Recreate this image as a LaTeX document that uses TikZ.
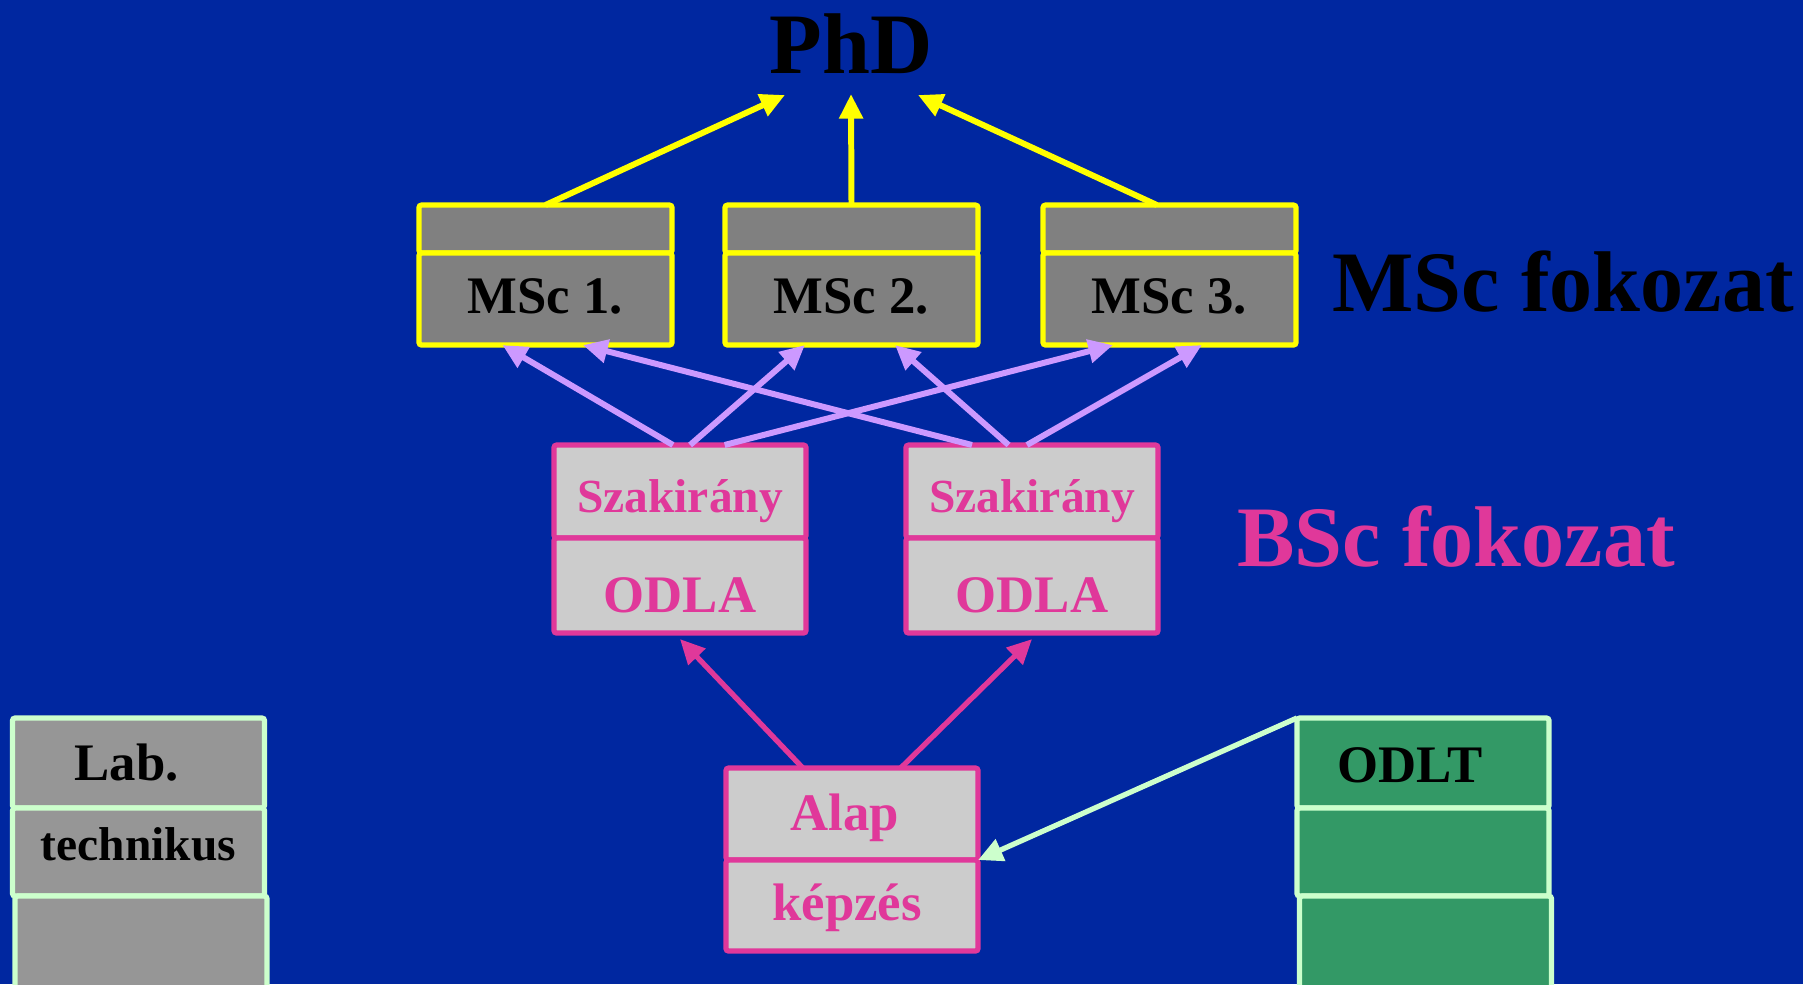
\documentclass[tikz,border=0pt]{standalone}
\usepackage{fontspec}
\setmainfont{Liberation Serif}
\usetikzlibrary{positioning,arrows.meta,calc}
\definecolor{hatter}{HTML}{0027A0}
\definecolor{sarga}{HTML}{FFFF00}
\definecolor{mscszurke}{HTML}{808080}
\definecolor{rozsa}{HTML}{E0389A}
\definecolor{vilagszurke}{HTML}{CCCCCC}
\definecolor{lila}{HTML}{CC99FF}
\definecolor{halvanyzold}{HTML}{CCFFCC}
\definecolor{zold}{HTML}{339966}
\definecolor{labszurke}{HTML}{969696}
\tikzset{
  cella/.style={rectangle,inner sep=0pt,outer sep=0pt,line width=1.5pt,align=center,rounded corners=0.8pt,
    minimum width=2.52cm,font=\fontsize{15}{18}\selectfont\bfseries,text depth=0pt},
  le/.style={text height=#1},
  mscdoboz/.style={cella,draw=sarga,fill=mscszurke,minimum width=2.53cm},
  bscdoboz/.style={cella,draw=rozsa,fill=vilagszurke,text=rozsa},
  labdoboz/.style={cella,draw=halvanyzold,fill=labszurke},
  odltdoboz/.style={cella,draw=halvanyzold,fill=zold},
  felirat/.style={font=\fontsize{24.5}{29}\selectfont\bfseries,inner sep=0pt},
  nyil/.style={-{Triangle[length=7pt,width=6.5pt]},line width=1.7pt},
  kisbetu/.style={font=\fontsize{13.5}{16}\selectfont\bfseries},
}

\begin{document}
\begin{tikzpicture}[x=0.01cm,y=-0.01cm]
  \fill[hatter] (0,0) rectangle (1803,984);
  \useasboundingbox (0,0) rectangle (1803,984);
  \node[felirat] (phd) at (851,44) {PhD};
  \coordinate (phd1) at (785,95);
  \coordinate (phd2) at (851,94);
  \coordinate (phd3) at (918,95);
  % MSc szint
  \foreach \n/\x in {1/545.5,2/851.5,3/1169.5}{
    \node[mscdoboz,minimum height=0.48cm] (msc\n a) at (\x,229) {};
    \node[mscdoboz,le=8pt,minimum height=0.92cm,below=0pt of msc\n a] (msc\n) {MSc \n.};
  }
  \node[felirat] (mscfok) at (1563,282) {MSc fokozat};
  \node[felirat,text=rozsa] (bscfok) at (1456,537) {BSc fokozat};
  % BSc szint
  \foreach \n/\x in {1/680,2/1032}{
    \node[bscdoboz,kisbetu,le=12pt,minimum height=0.93cm] (sz\n) at (\x,491.5) {Szakirány};
    \node[bscdoboz,le=15.4pt,minimum height=0.95cm,below=0pt of sz\n] (odla\n) {ODLA};
  }
  \node[bscdoboz,le=9.2pt,minimum height=0.92cm] (alap) at (852,814) {\hspace*{-0.14cm}Alap};
  \node[bscdoboz,le=8.3pt,minimum height=0.91cm,below=0pt of alap] (kepzes) {\hspace*{-0.1cm}képzés};
  % oldalso oszlopok
  \node[labdoboz,le=9.7pt,minimum height=0.90cm] (lab1) at (138.5,763) {\hspace*{-0.24cm}Lab.};
  \node[labdoboz,kisbetu,le=4.6pt,minimum height=0.88cm,below=0pt of lab1] (lab2) {technikus};
  \node[labdoboz,minimum height=1.0cm,below=0pt of lab2,xshift=0.025cm] (lab3) {};
  \node[odltdoboz,le=10.8pt,minimum height=0.90cm] (odlt1) at (1423,763) {\hspace*{-0.26cm}ODLT};
  \node[odltdoboz,minimum height=0.88cm,below=0pt of odlt1] (odlt2) {};
  \node[odltdoboz,minimum height=1.0cm,below=0pt of odlt2,xshift=0.025cm] (odlt3) {};
  % nyilak
  \draw[nyil,sarga] (msc1a.north) -- (phd1);
  \draw[nyil,sarga] (msc2a.north) -- (phd2);
  \draw[nyil,sarga] ($(msc3a.north west)!0.45!(msc3a.north east)$) -- (phd3);
  \foreach \s/\p/\m/\q in {sz1/0.472/msc1/0.33,sz1/0.54/msc2/0.316,sz1/0.677/msc3/0.277,
      sz2/0.262/msc1/0.648,sz2/0.407/msc2/0.672,sz2/0.48/msc3/0.628}
    \draw[nyil,lila] ($(\s.north west)!\p!(\s.north east)$) -- ($(\m.south west)!\q!(\m.south east)$);
  \draw[nyil,rozsa,line width=1.5pt] ($(alap.north west)!0.305!(alap.north east)$) -- ($(odla1.south)+(0,6)$);
  \draw[nyil,rozsa,line width=1.5pt] ($(alap.north west)!0.693!(alap.north east)$) -- ($(odla2.south)+(0,6)$);
  \draw[nyil,halvanyzold,line width=1.5pt] (odlt1.north west) -- (kepzes.north east);
\end{tikzpicture}
\end{document}
